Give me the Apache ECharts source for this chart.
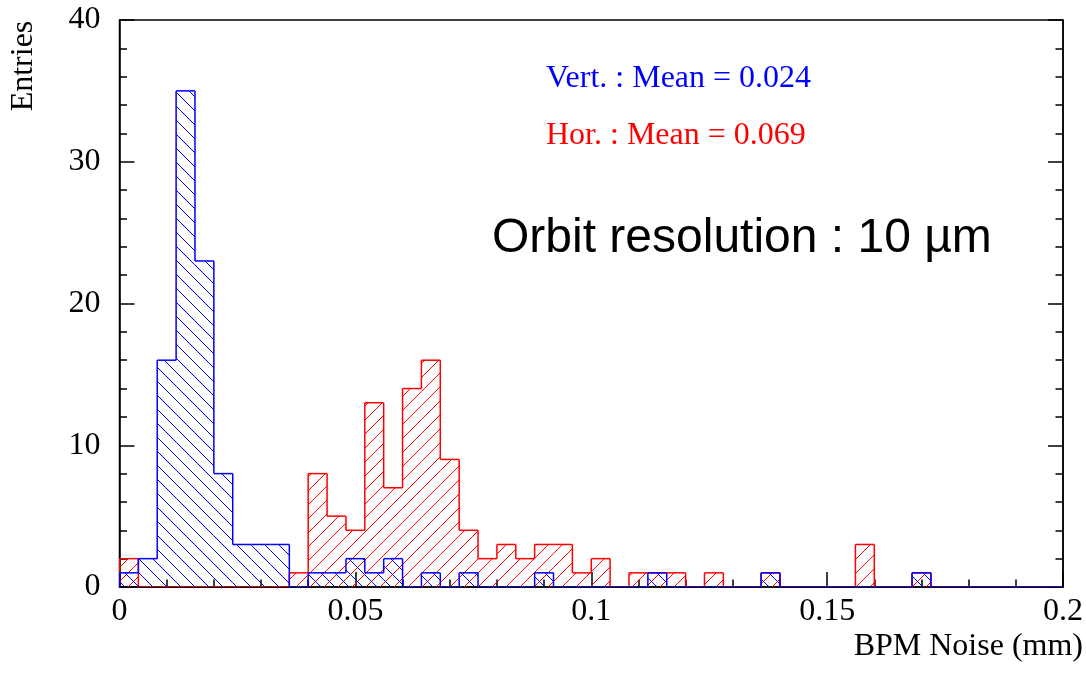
<!DOCTYPE html>
<html>
<head>
<meta charset="utf-8">
<script src="https://cdn.jsdelivr.net/npm/echarts@6/dist/echarts.min.js"></script>
<style>
html,body{margin:0;padding:0;background:#fff;}
#c{width:1086px;height:679px;}
</style>
</head>
<body>
<div id="c"></div>
<script>
// ---- data ----
const binWidth = 0.004;
const vertCounts = [1,2,16,35,23,8,3,3,3,0, 1,1,2,1,2,0,1,0,1,0, 0,0,1,0,0,0,0,0,1,0, 0,0,0,0,1,0,0,0,0,0, 0,0,1,0,0,0,0,0,0,0];
const horCounts  = [2,0,0,0,0,0,0,0,0,1, 8,5,4,13,7,14,16,9,4,2, 3,2,3,3,1,2,0,1,1,1, 0,1,0,0,1,0,0,0,0,3, 0,0,1,0,0,0,0,0,0,0];
const xTickLabels = ['0','0.05','0.1','0.15','0.2'];
const yTickLabels = ['0','10','20','30','40'];
const vertLabel = 'Vert. : Mean = 0.024';
const horLabel = 'Hor. : Mean = 0.069';
const noteLabel = 'Orbit resolution : 10 \u00b5m';
const xTitle = 'BPM Noise (mm)';
const yTitle = 'Entries';

const BLUE = '#0000ff', RED = '#ff0000';
const SERIF = 'Liberation Serif';
const FS = 32;

// crisp 1-px hatch tile (like ROOT fill styles 3004/3005)
function hatchTile(rgb, dir) {
  const s = 14;
  const c = document.createElement('canvas');
  c.width = s; c.height = s;
  const g = c.getContext('2d');
  const img = g.createImageData(s, s);
  for (let y = 0; y < s; y++) {
    for (let x = 0; x < s; x++) {
      const on = dir === '/' ? ((x + y) % s === 0) : ((x - y + s) % s === 0);
      if (on) {
        const k = (y * s + x) * 4;
        img.data[k] = rgb[0]; img.data[k + 1] = rgb[1]; img.data[k + 2] = rgb[2]; img.data[k + 3] = 255;
      }
    }
  }
  g.putImageData(img, 0, 0);
  return c;
}

function histData(counts) {
  return counts.map((v, i) => [i * binWidth, (i + 1) * binWidth, v, i ? counts[i - 1] : 0]);
}

function makeRender(color, tile) {
  return function (params, api) {
    const x0 = api.value(0), x1 = api.value(1), y = api.value(2), yp = api.value(3);
    const a = api.coord([x0, y]);
    const b = api.coord([x1, 0]);
    const pp = api.coord([x0, yp]);
    const children = [];
    if (y > 0) {
      children.push({
        type: 'rect',
        shape: { x: a[0], y: a[1], width: b[0] - a[0], height: b[1] - a[1] },
        style: { fill: { image: tile, repeat: 'repeat' }, stroke: null }
      });
    }
    children.push({
      type: 'line',
      shape: { x1: a[0], y1: a[1], x2: b[0], y2: a[1] },
      style: { stroke: color, lineWidth: 1.5 }
    });
    if (y !== yp) {
      children.push({
        type: 'line',
        shape: { x1: a[0], y1: pp[1], x2: a[0], y2: a[1] },
        style: { stroke: color, lineWidth: 1.5 }
      });
    }
    return { type: 'group', children: children };
  };
}

const chart = echarts.init(document.getElementById('c'), null, { renderer: 'canvas' });

const axisCommon = {
  axisLine: { show: true, lineStyle: { color: '#000', width: 1.5 } },
  axisTick: { show: true, inside: true, length: 15, lineStyle: { color: '#000', width: 1.5 } },
  minorTick: { show: true, splitNumber: 5, length: 7.5, lineStyle: { color: '#000', width: 1.5 } },
  splitLine: { show: false },
  minorSplitLine: { show: false }
};

const redTile = hatchTile([255, 0, 0], '/');
const blueTile = hatchTile([0, 0, 255], '\\');

chart.setOption({
  backgroundColor: '#fff',
  animation: false,
  grid: { left: 119.5, top: 20, width: 945.5, height: 567, show: true, borderColor: '#000', borderWidth: 1.5, backgroundColor: 'transparent' },
  xAxis: Object.assign({
    type: 'value', min: 0, max: 0.2, interval: 0.05,
    axisLabel: {
      color: '#000', fontFamily: SERIF, fontSize: FS, margin: 9,
      formatter: v => xTickLabels[Math.round(v / 0.05)]
    }
  }, axisCommon),
  yAxis: [
    Object.assign({
      type: 'value', min: 0, max: 40, interval: 10,
      axisLabel: {
        color: '#000', fontFamily: SERIF, fontSize: FS, margin: 19,
        formatter: v => yTickLabels[Math.round(v / 10)]
      }
    }, axisCommon),
    Object.assign({
      type: 'value', min: 0, max: 40, interval: 10, position: 'right',
      axisLabel: { show: false }
    }, axisCommon)
  ],
  series: [
    {
      type: 'custom', name: 'Hor', xAxisIndex: 0, yAxisIndex: 0, clip: true,
      renderItem: makeRender(RED, redTile),
      data: histData(horCounts)
    },
    {
      type: 'custom', name: 'Vert', xAxisIndex: 0, yAxisIndex: 0, clip: true,
      renderItem: makeRender(BLUE, blueTile),
      data: histData(vertCounts)
    }
  ],
  graphic: [
    { type: 'text', x: 546, y: 79, style: { text: vertLabel, fill: BLUE, font: FS + 'px "Liberation Serif"', textAlign: 'left', textVerticalAlign: 'middle' } },
    { type: 'text', x: 546, y: 136, style: { text: horLabel, fill: RED, font: FS + 'px "Liberation Serif"', textAlign: 'left', textVerticalAlign: 'middle' } },
    { type: 'text', x: 492, y: 239, style: { text: noteLabel, fill: '#000', font: '48px "Liberation Sans"', textAlign: 'left', textVerticalAlign: 'middle' } },
    { type: 'text', x: 1083, y: 647, style: { text: xTitle, fill: '#000', font: FS + 'px "Liberation Serif"', textAlign: 'right', textVerticalAlign: 'middle' } },
    { type: 'text', x: 24, y: 66, rotation: Math.PI / 2, style: { text: yTitle, fill: '#000', font: FS + 'px "Liberation Serif"', textAlign: 'center', textVerticalAlign: 'middle' } }
  ]
});
</script>
</body>
</html>
